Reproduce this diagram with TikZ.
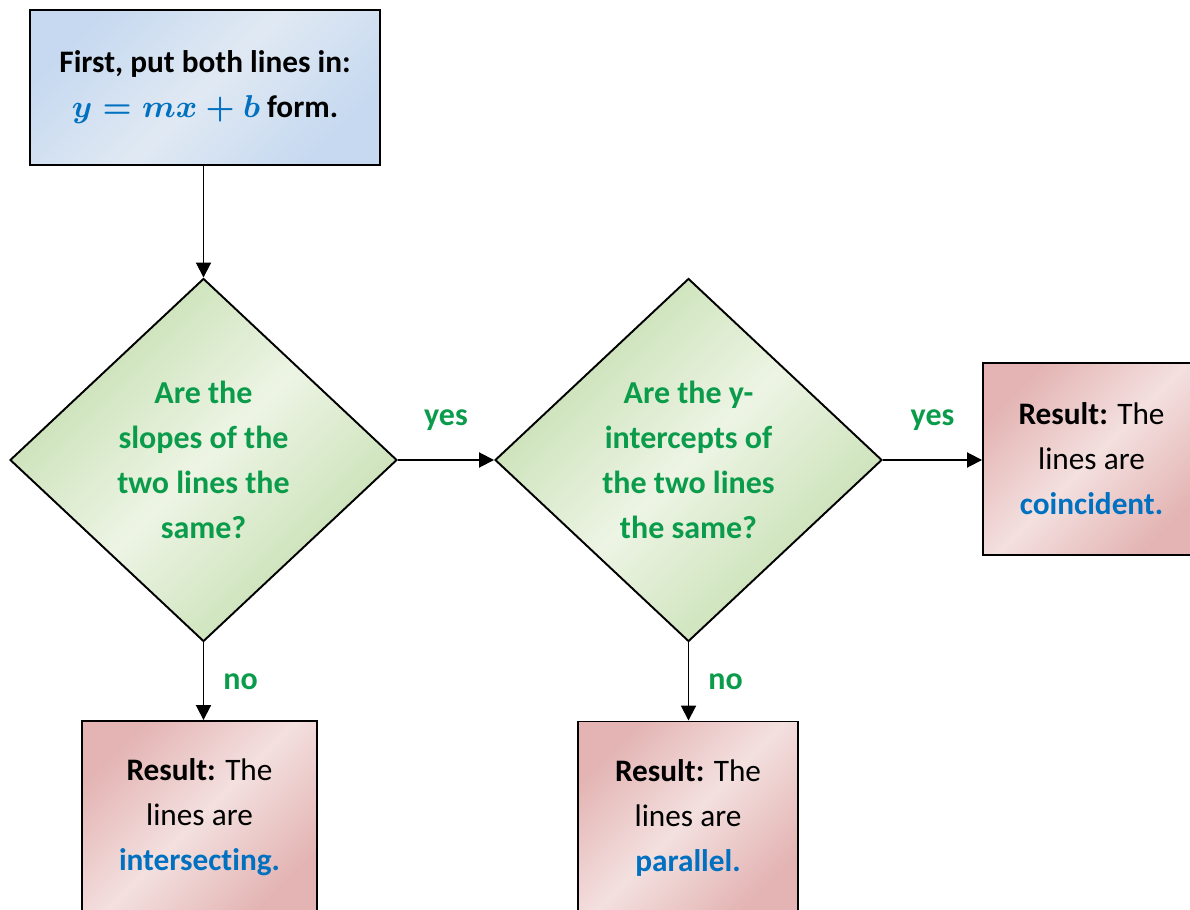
\documentclass[tikz,border=0pt]{standalone}
\usepackage{fontspec}
\setmainfont{Carlito}[Ligatures={NoCommon,NoRare,NoDiscretionary}]
\usetikzlibrary{shapes.geometric,arrows.meta}
\definecolor{startdark}{HTML}{C6D9F0}
\definecolor{startlight}{HTML}{E0E9F3}
\definecolor{askdark}{HTML}{C3DEAE}
\definecolor{asklight}{HTML}{EDF4E4}
\definecolor{resdark}{HTML}{E3B4B3}
\definecolor{reslight}{HTML}{F3E0DF}
\definecolor{askgreen}{HTML}{0A9B4B}
\definecolor{ansblue}{HTML}{0070C0}
\begin{document}
\begin{tikzpicture}[x=1cm,y=1cm,font=\fontsize{8.9pt}{12.8pt}\selectfont,
    startbox/.style={draw,line width=0.55pt,inner sep=0pt,align=center,
      minimum width=3.5cm,minimum height=1.55cm,
      left color=startdark,right color=startdark,middle color=startlight,shading angle=45},
    askbox/.style={diamond,draw,line width=0.55pt,inner sep=0pt,align=center,
      minimum width=3.87cm,minimum height=3.63cm,text=askgreen,font=\fontsize{9.1pt}{12.8pt}\selectfont\bfseries,
      left color=askdark,right color=askdark,middle color=asklight,shading angle=45},
    resbox/.style={draw,line width=0.55pt,inner sep=0pt,align=center,
      minimum height=1.93cm,
      left color=resdark,right color=resdark,middle color=reslight,shading angle=45},
    flow/.style={line width=0.55pt,-{Triangle[length=0.15cm,width=0.15cm]}},
    answer/.style={text=askgreen,font=\fontsize{9.1pt}{12.8pt}\selectfont\bfseries}]
  \useasboundingbox (0,0) rectangle (11.9,9.09);
  \clip (0,0) rectangle (11.9,9.09);
  % start
  \node[startbox] (start) at (2.05,8.215)
    {\textbf{First, put both lines in:}\\
     {\color{ansblue}\boldmath$y=mx+b$} \textbf{form.}};
  % questions
  \node[askbox] (slopes) at (2.035,4.49)
    {Are the\\slopes of the\\two lines the\\same?};
  \node[askbox] (icepts) at (6.885,4.49)
    {Are the y-\\intercepts of\\the two lines\\the same?};
  % results
  \node[resbox,minimum width=2.35cm] (inter) at (1.995,0.915)
    {\textbf{Result:} The\\lines are\\{\color{ansblue}\bfseries intersecting.}};
  \node[resbox,minimum width=2.2cm] (paral) at (6.88,0.91)
    {\textbf{Result:} The\\lines are\\{\color{ansblue}\bfseries parallel.}};
  \node[resbox,minimum width=2.17cm,minimum height=1.92cm] (coinc) at (10.915,4.50)
    {\textbf{Result:} The\\lines are\\{\color{ansblue}\bfseries coincident.}};
  % arrows
  \draw[flow] (start.south -| slopes.north) -- (slopes.north);
  \draw[flow] (slopes.east) -- node[answer,midway,yshift=0.4cm] {yes} (icepts.west);
  \draw[flow] (icepts.east) -- node[answer,midway,yshift=0.4cm] {yes} (icepts.east -| coinc.west);
  \draw[flow] (slopes.south) -- node[answer,midway,xshift=0.37cm] {no} (slopes.south |- inter.north);
  \draw[flow] (icepts.south) -- node[answer,midway,xshift=0.37cm] {no} (icepts.south |- paral.north);
\end{tikzpicture}
\end{document}
